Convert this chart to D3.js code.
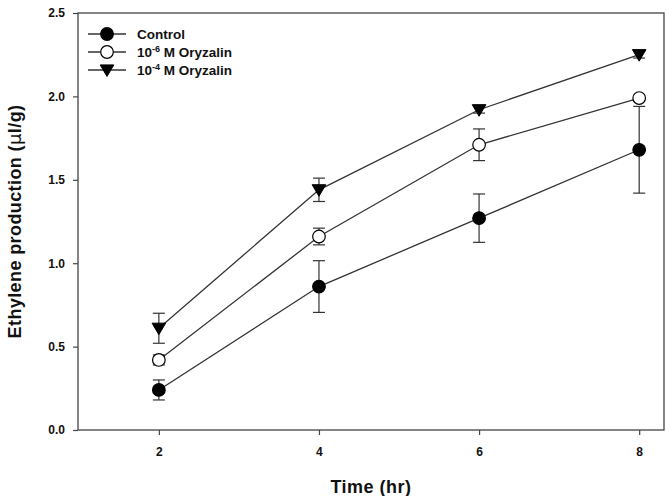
<!DOCTYPE html>
<html><head><meta charset="utf-8">
<script src="https://cdn.jsdelivr.net/npm/d3@7"></script>
<style>body{margin:0;background:#fff}svg{display:block}text{font-family:"Liberation Sans",Arial,sans-serif;font-weight:bold;fill:#111}</style>
</head><body><svg id="c" width="669" height="496"></svg>
<script>
const times = [2, 4, 6, 8];
const seriesNames = ["Control", "10^-6 M Oryzalin", "10^-4 M Oryzalin"];
const controlMean = [0.24, 0.86, 1.27, 1.68];
const controlErr  = [0.06, 0.155, 0.145, 0.26];
const ory6Mean = [0.42, 1.16, 1.71, 1.99];
const ory6Err  = [0.03, 0.05, 0.095, 0.015];
const ory4Mean = [0.61, 1.44, 1.92, 2.25];
const ory4Err  = [0.09, 0.07, 0.02, 0.02];
const xTicks = [2, 4, 6, 8];
const yTicks = [0.0, 0.5, 1.0, 1.5, 2.0, 2.5];

const svg = d3.select("#c");
const L = 78, R = 664, T = 13, B = 430;
const x = d3.scaleLinear().domain([0.99, 8.31]).range([L, R]);
const y = d3.scaleLinear().domain([0, 2.5]).range([B, T]);
const axisColor = "#444";

const series = [
  {name: seriesNames[0], mean: controlMean, err: controlErr, sym: "circle", fill: "#000"},
  {name: seriesNames[1], mean: ory6Mean, err: ory6Err, sym: "circle", fill: "#fff"},
  {name: seriesNames[2], mean: ory4Mean, err: ory4Err, sym: "tri", fill: "#000"}
];

svg.append("rect").attr("x", L).attr("y", T).attr("width", R - L).attr("height", B - T)
  .attr("fill", "none").attr("stroke", axisColor).attr("stroke-width", 1.3);

const gx = svg.append("g").attr("transform", `translate(0,${B})`)
  .call(d3.axisBottom(x).tickValues(xTicks).tickSize(5).tickPadding(12).tickFormat(d3.format("d")));
const gy = svg.append("g").attr("transform", `translate(${L},0)`)
  .call(d3.axisLeft(y).tickValues(yTicks).tickSize(5).tickPadding(8).tickFormat(d3.format(".1f")));
[gx, gy].forEach(g => {
  g.select(".domain").remove();
  g.selectAll(".tick line").attr("stroke", axisColor).attr("stroke-width", 1.2);
  g.selectAll(".tick text").style("font-size", "12px").style("font-family", '"Liberation Sans",Arial,sans-serif').style("font-weight", "bold").attr("fill", "#111");
});

svg.append("text").attr("x", (L + R) / 2).attr("y", 493).attr("text-anchor", "middle")
  .style("font-size", "18px").style("letter-spacing", "0.5px").text("Time (hr)");
const yl = svg.append("text").attr("transform", `translate(21,${(T + B) / 2}) rotate(-90)`)
  .attr("text-anchor", "middle").style("font-size", "18px").style("letter-spacing", "0.4px");
yl.append("tspan").text("Ethylene production (");
yl.append("tspan").style("font-family", '"DejaVu Sans",sans-serif').style("font-weight", "normal").text("µ");
yl.append("tspan").text("l/g)");

const triPath = (cx, cy, s) => `M${cx - s},${cy - s * 0.75}L${cx + s},${cy - s * 0.75}L${cx},${cy + s * 0.95}Z`;
function drawSym(g, s, cx, cy) {
  if (s.sym === "circle") {
    g.append("circle").attr("cx", cx).attr("cy", cy).attr("r", 6.3)
      .attr("fill", s.fill).attr("stroke", "#000").attr("stroke-width", 1.2);
  } else {
    g.append("path").attr("d", triPath(cx, cy, 6.8)).attr("fill", "#000").attr("stroke", "#000").attr("stroke-width", 1);
  }
}

const line = d3.line().x((d, i) => x(times[i])).y(d => y(d));
series.forEach(s => {
  const g = svg.append("g");
  g.append("path").attr("d", line(s.mean)).attr("fill", "none").attr("stroke", "#333").attr("stroke-width", 1.3);
  s.mean.forEach((m, i) => {
    const cx = x(times[i]);
    const y1 = y(m - s.err[i]), y2 = y(m + s.err[i]);
    g.append("line").attr("x1", cx).attr("x2", cx).attr("y1", y1).attr("y2", y2).attr("stroke", "#333").attr("stroke-width", 1.2);
    [y1, y2].forEach(yy => g.append("line").attr("x1", cx - 6).attr("x2", cx + 6).attr("y1", yy).attr("y2", yy).attr("stroke", "#333").attr("stroke-width", 1.2));
  });
  s.mean.forEach((m, i) => drawSym(g, s, x(times[i]), y(m)));
});

const lg = svg.append("g");
series.forEach((s, i) => {
  const cy = 34 + i * 18;
  lg.append("line").attr("x1", 88).attr("x2", 126).attr("y1", cy).attr("y2", cy).attr("stroke", "#333").attr("stroke-width", 1.3);
  drawSym(lg, s, 107, cy);
  const t = lg.append("text").attr("x", 137).attr("y", cy + 5).style("font-size", "13.5px");
  if (i === 0) t.text(s.name);
  else {
    const parts = s.name.split("^");
    const rest = parts[1].split(" ");
    t.append("tspan").text(parts[0]);
    t.append("tspan").attr("dy", -5.5).style("font-size", "9px").text(rest[0]);
    t.append("tspan").attr("dy", 5.5).text(" " + rest.slice(1).join(" "));
  }
});
</script></body></html>
